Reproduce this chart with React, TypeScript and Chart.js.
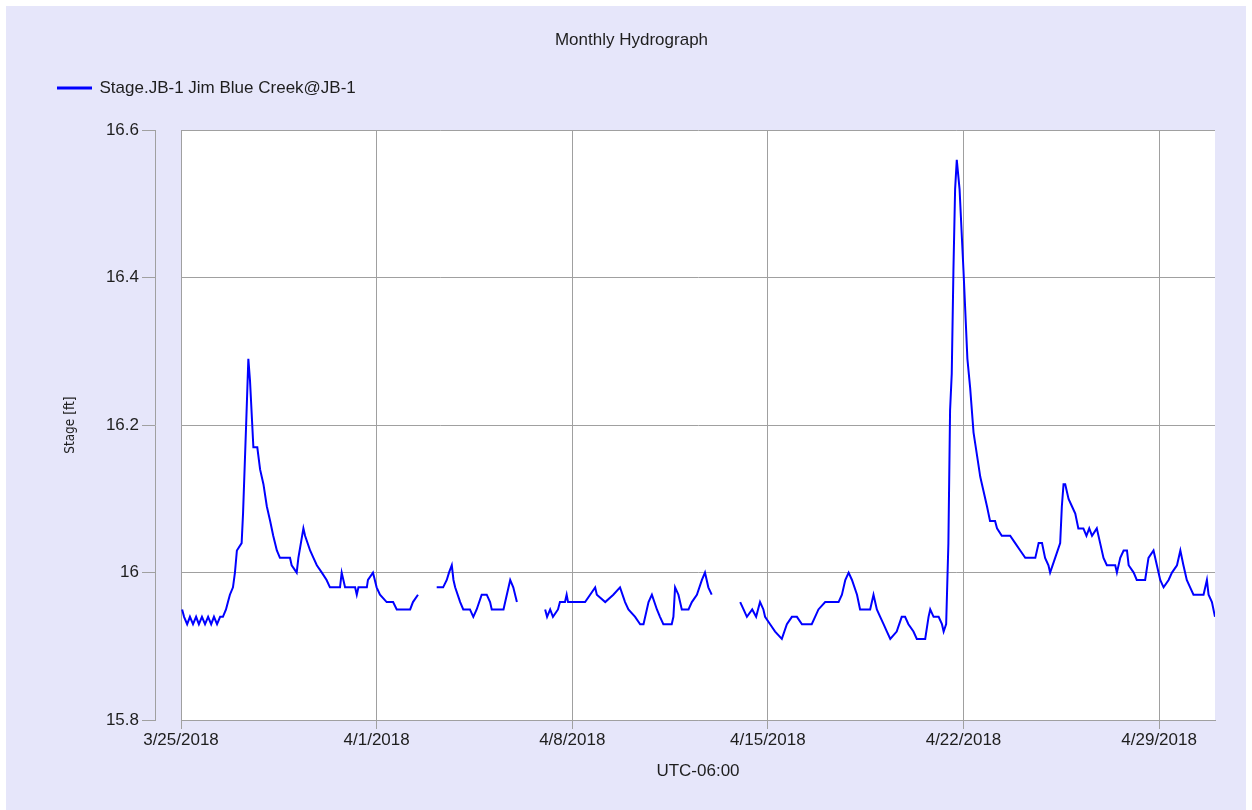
import { useEffect, useRef } from 'react';
import { Chart, registerables } from 'chart.js';

Chart.register(...registerables);

const chartTitle = 'Monthly Hydrograph';
const seriesLabel = 'Stage.JB-1 Jim Blue Creek@JB-1';
const yAxisTitle = 'Stage [ft]';
const xAxisTitle = 'UTC-06:00';

// x values are days since 3/25/2018 00:00
const xMin = 0;
const xMax = 37;
const xTickDays = [0, 7, 14, 21, 28, 35];
const xTickLabels = ['3/25/2018', '4/1/2018', '4/8/2018', '4/15/2018', '4/22/2018', '4/29/2018'];
const yTicks = [15.8, 16.0, 16.2, 16.4, 16.6];
const yTickLabels = ['15.8', '16', '16.2', '16.4', '16.6'];

const seg1Days = [0.04, 0.11, 0.22, 0.32, 0.43, 0.54, 0.64, 0.75, 0.86, 0.97, 1.08, 1.18, 1.29, 1.40, 1.50, 1.61, 1.68, 1.75, 1.86, 1.93, 2.00, 2.17, 2.22, 2.33, 2.41, 2.47, 2.59, 2.73, 2.83, 2.95, 3.07, 3.19, 3.30, 3.43, 3.54, 3.90, 3.96, 4.14, 4.20, 4.38, 4.44, 4.62, 4.74, 4.86, 5.04, 5.21, 5.33, 5.69, 5.75, 5.87, 6.23, 6.29, 6.35, 6.65, 6.69, 6.87, 7.00, 7.12, 7.36, 7.59, 7.72, 8.20, 8.30, 8.48];
const seg1Stage = [15.95, 15.94, 15.93, 15.94, 15.93, 15.94, 15.93, 15.94, 15.93, 15.94, 15.93, 15.94, 15.93, 15.94, 15.94, 15.95, 15.96, 15.97, 15.98, 16.00, 16.03, 16.04, 16.08, 16.20, 16.29, 16.26, 16.17, 16.17, 16.14, 16.12, 16.09, 16.07, 16.05, 16.03, 16.02, 16.02, 16.01, 16.00, 16.02, 16.06, 16.05, 16.03, 16.02, 16.01, 16.00, 15.99, 15.98, 15.98, 16.00, 15.98, 15.98, 15.97, 15.98, 15.98, 15.99, 16.00, 15.98, 15.97, 15.96, 15.96, 15.95, 15.95, 15.96, 15.97];

const seg2Days = [9.15, 9.38, 9.51, 9.59, 9.69, 9.75, 9.81, 9.99, 10.10, 10.34, 10.46, 10.58, 10.76, 10.94, 11.06, 11.12, 11.54, 11.60, 11.78, 11.89, 12.02];
const seg2Stage = [15.98, 15.98, 15.99, 16.00, 16.01, 15.99, 15.98, 15.96, 15.95, 15.95, 15.94, 15.95, 15.97, 15.97, 15.96, 15.95, 15.95, 15.96, 15.99, 15.98, 15.96];

const seg3Days = [13.03, 13.10, 13.21, 13.31, 13.49, 13.56, 13.74, 13.80, 13.85, 14.46, 14.64, 14.82, 14.88, 15.18, 15.47, 15.71, 15.89, 16.01, 16.25, 16.43, 16.55, 16.73, 16.85, 17.03, 17.14, 17.26, 17.56, 17.62, 17.68, 17.80, 17.92, 18.16, 18.28, 18.46, 18.64, 18.75, 18.87, 18.99];
const seg3Stage = [15.95, 15.94, 15.95, 15.94, 15.95, 15.96, 15.96, 15.97, 15.96, 15.96, 15.97, 15.98, 15.97, 15.96, 15.97, 15.98, 15.96, 15.95, 15.94, 15.93, 15.93, 15.96, 15.97, 15.95, 15.94, 15.93, 15.93, 15.94, 15.98, 15.97, 15.95, 15.95, 15.96, 15.97, 15.99, 16.00, 15.98, 15.97];

const seg4Days = [20.01, 20.13, 20.25, 20.44, 20.58, 20.72, 20.84, 20.90, 21.08, 21.26, 21.50, 21.68, 21.86, 22.04, 22.22, 22.57, 22.69, 22.81, 23.05, 23.53, 23.65, 23.77, 23.89, 24.01, 24.19, 24.30, 24.66, 24.78, 24.90, 25.02, 25.14, 25.26, 25.38, 25.61, 25.79, 25.91, 26.03, 26.21, 26.33, 26.63, 26.75, 26.81, 26.93, 27.11, 27.23, 27.29, 27.38, 27.46, 27.52, 27.58, 27.64, 27.70, 27.76, 27.86, 28.00, 28.14, 28.24, 28.36, 28.48, 28.60, 28.72, 28.84, 28.95, 29.13, 29.20, 29.37, 29.67, 29.85, 30.03, 30.21, 30.57, 30.69, 30.81, 30.92, 31.04, 31.10, 31.28, 31.46, 31.52, 31.58, 31.64, 31.76, 31.88, 32.00, 32.11, 32.29, 32.40, 32.50, 32.60, 32.77, 32.89, 33.01, 33.13, 33.43, 33.49, 33.61, 33.73, 33.85, 33.91, 34.09, 34.20, 34.50, 34.62, 34.80, 34.92, 35.04, 35.16, 35.34, 35.46, 35.64, 35.76, 35.87, 35.99, 36.11, 36.23, 36.59, 36.71, 36.77, 36.89, 37.00];
const seg4Stage = [15.96, 15.95, 15.94, 15.95, 15.94, 15.96, 15.95, 15.94, 15.93, 15.92, 15.91, 15.93, 15.94, 15.94, 15.93, 15.93, 15.94, 15.95, 15.96, 15.96, 15.97, 15.99, 16.00, 15.99, 15.97, 15.95, 15.95, 15.97, 15.95, 15.94, 15.93, 15.92, 15.91, 15.92, 15.94, 15.94, 15.93, 15.92, 15.91, 15.91, 15.94, 15.95, 15.94, 15.94, 15.93, 15.92, 15.93, 16.04, 16.22, 16.27, 16.41, 16.52, 16.56, 16.52, 16.41, 16.29, 16.25, 16.19, 16.16, 16.13, 16.11, 16.09, 16.07, 16.07, 16.06, 16.05, 16.05, 16.04, 16.03, 16.02, 16.02, 16.04, 16.04, 16.02, 16.01, 16.00, 16.02, 16.04, 16.09, 16.12, 16.12, 16.10, 16.09, 16.08, 16.06, 16.06, 16.05, 16.06, 16.05, 16.06, 16.04, 16.02, 16.01, 16.01, 16.00, 16.02, 16.03, 16.03, 16.01, 16.00, 15.99, 15.99, 16.02, 16.03, 16.01, 15.99, 15.98, 15.99, 16.00, 16.01, 16.03, 16.01, 15.99, 15.98, 15.97, 15.97, 15.99, 15.97, 15.96, 15.94];

const segments: [number[], number[]][] = [
  [seg1Days, seg1Stage],
  [seg2Days, seg2Stage],
  [seg3Days, seg3Stage],
  [seg4Days, seg4Stage],
];

const FONT = "'Liberation Sans', Arial, sans-serif";
const TEXT = '#1e1e1e';
const GRID = '#a0a0a0';

function buildPoints() {
  const pts: { x: number; y: number | null }[] = [];
  segments.forEach(([d, s], i) => {
    if (i > 0) {
      const prev = segments[i - 1][0];
      pts.push({ x: (prev[prev.length - 1] + d[0]) / 2, y: null });
    }
    d.forEach((x, j) => pts.push({ x, y: s[j] }));
  });
  return pts;
}

const plotBackground = {
  id: 'plotBackground',
  beforeDraw(chart: any) {
    const { ctx, chartArea } = chart;
    ctx.save();
    ctx.fillStyle = '#ffffff';
    ctx.fillRect(chartArea.left, chartArea.top, chartArea.right - chartArea.left, chartArea.bottom - chartArea.top);
    ctx.restore();
  },
};

export default function App() {
  const ref = useRef<HTMLCanvasElement | null>(null);

  useEffect(() => {
    if (!ref.current) return;
    const setYTicks = (scale: any) => {
      scale.ticks = yTicks.map((v) => ({ value: v }));
    };
    const chart = new Chart(ref.current, {
      type: 'line',
      data: {
        datasets: [
          {
            label: seriesLabel,
            data: buildPoints() as any,
            borderColor: '#0000ff',
            backgroundColor: '#0000ff',
            borderWidth: 2,
            pointRadius: 0,
            tension: 0,
            spanGaps: false,
          },
        ],
      },
      options: {
        animation: false,
        responsive: false,
        maintainAspectRatio: false,
        layout: { padding: { left: 42, right: 31, top: 0, bottom: 0 } },
        plugins: {
          title: {
            display: true,
            text: chartTitle,
            color: TEXT,
            font: { family: FONT, size: 17, weight: 'normal' as any },
            padding: { top: 24, bottom: 19 },
          },
          legend: {
            display: true,
            position: 'top',
            align: 'start',
            labels: {
              color: TEXT,
              font: { family: FONT, size: 17 },
              boxWidth: 33,
              boxHeight: 1,
              padding: 10,
            },
          },
          tooltip: { enabled: false },
        },
        scales: {
          x: {
            type: 'linear',
            position: 'bottom',
            min: xMin,
            max: xMax,
            afterBuildTicks: (scale: any) => {
              scale.ticks = xTickDays.map((v) => ({ value: v }));
            },
            afterFit: (scale: any) => {
              scale.height = 90;
            },
            grid: { color: GRID, lineWidth: 1, drawTicks: true, tickLength: 9 },
            border: { display: true, color: GRID },
            ticks: {
              autoSkip: false,
              maxRotation: 0,
              padding: 1,
              color: TEXT,
              font: { family: FONT, size: 17 },
              callback: (v: any) => {
                const i = xTickDays.indexOf(Number(v));
                return i >= 0 ? xTickLabels[i] : '';
              },
            },
            title: {
              display: true,
              text: xAxisTitle,
              color: TEXT,
              font: { family: FONT, size: 17 },
              padding: { top: 0, bottom: 28 },
            },
          },
          xTop: {
            type: 'linear',
            position: 'top',
            min: xMin,
            max: xMax,
            afterFit: (scale: any) => {
              scale.height = 24;
            },
            grid: { display: false, drawOnChartArea: false, drawTicks: false },
            border: { display: false },
            ticks: { display: false },
          },
          y: {
            type: 'linear',
            position: 'left',
            weight: 0,
            min: 15.8,
            max: 16.6,
            afterBuildTicks: setYTicks,
            afterFit: (scale: any) => {
              scale.width = 26;
            },
            grid: { color: GRID, lineWidth: 1, drawTicks: false, drawOnChartArea: true },
            border: { display: true, color: GRID },
            ticks: { display: false },
          },
          yAxis: {
            type: 'linear',
            position: 'left',
            weight: 1,
            min: 15.8,
            max: 16.6,
            afterBuildTicks: setYTicks,
            afterFit: (scale: any) => {
              scale.width = 107;
            },
            grid: { color: GRID, lineWidth: 1, drawTicks: true, tickLength: 13, drawOnChartArea: false },
            border: { display: true, color: GRID },
            ticks: {
              padding: 3,
              color: TEXT,
              font: { family: FONT, size: 17 },
              callback: (v: any) => {
                const i = yTicks.findIndex((t) => Math.abs(t - Number(v)) < 1e-6);
                return i >= 0 ? yTickLabels[i] : '';
              },
            },
            title: {
              display: true,
              text: yAxisTitle,
              color: TEXT,
              font: { family: "'Liberation Sans Narrow', 'DejaVu Sans Condensed', 'Liberation Sans', sans-serif", size: 13.5 },
              padding: { top: 14, bottom: 0 },
            },
          },
        },
      } as any,
      plugins: [plotBackground],
    });
    return () => chart.destroy();
  }, []);

  return (
    <div
      style={{
        position: 'fixed',
        left: 6,
        top: 6,
        width: 1240,
        height: 804,
        background: '#E6E6FA',
      }}
    >
      <canvas ref={ref} width={1240} height={804} style={{ display: 'block' }} />
    </div>
  );
}
